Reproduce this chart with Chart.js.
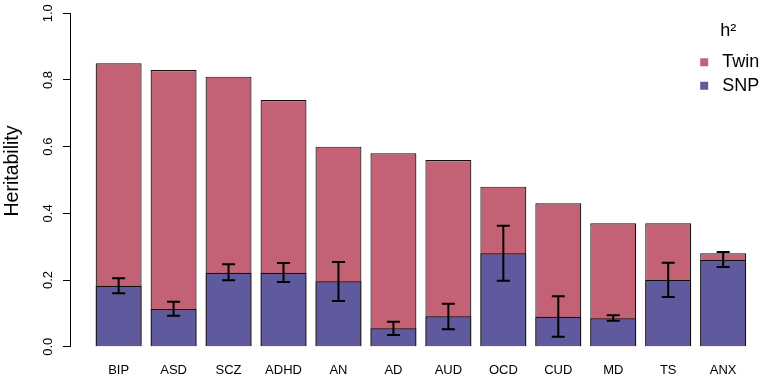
<!DOCTYPE html>
<html>
<head>
<meta charset="utf-8">
<script src="https://cdn.jsdelivr.net/npm/chart.js@4/dist/chart.umd.min.js"></script>
<style>
  html, body { margin: 0; padding: 0; background: #fff; }
  #wrap { width: 767px; height: 380px; }
</style>
</head>
<body>
<div id="wrap"><canvas id="c" width="767" height="380"></canvas></div>
<script>
// ---- data ----
const categories = ['BIP', 'ASD', 'SCZ', 'ADHD', 'AN', 'AD', 'AUD', 'OCD', 'CUD', 'MD', 'TS', 'ANX'];
const twinH2   = [0.85, 0.83, 0.81, 0.74, 0.60, 0.58, 0.56, 0.48, 0.43, 0.37, 0.37, 0.28];
const snpH2    = [0.183, 0.113, 0.222, 0.222, 0.196, 0.055, 0.091, 0.280, 0.090, 0.085, 0.200, 0.260];
const snpLower = [0.160, 0.093, 0.199, 0.194, 0.137, 0.035, 0.052, 0.198, 0.030, 0.078, 0.149, 0.239];
const snpUpper = [0.205, 0.135, 0.247, 0.251, 0.254, 0.075, 0.129, 0.363, 0.151, 0.094, 0.252, 0.284];
const yTicks   = [0, 0.2, 0.4, 0.6, 0.8, 1.0];
const seriesNames = ['Twin', 'SNP'];
const legendTitle = 'h\u00B2';
const yTitle = 'Heritability';

const FONT = '"Liberation Sans", Arial, Helvetica, sans-serif';

const errorBars = {
  id: 'errorBars',
  afterDatasetsDraw(chart) {
    const { ctx, scales: { x, y } } = chart;
    ctx.save();
    ctx.strokeStyle = '#000';
    ctx.lineWidth = 2;
    categories.forEach((c, i) => {
      const px = x.getPixelForValue(i);
      const lo = y.getPixelForValue(snpLower[i]);
      const hi = y.getPixelForValue(snpUpper[i]);
      ctx.beginPath();
      ctx.moveTo(px, lo); ctx.lineTo(px, hi);
      ctx.moveTo(px - 6.5, lo); ctx.lineTo(px + 6.5, lo);
      ctx.moveTo(px - 6.5, hi); ctx.lineTo(px + 6.5, hi);
      ctx.stroke();
    });
    ctx.restore();
  }
};

// y-axis title, placed like R's ylab (slightly above the plot-region centre)
const yAxisTitle = {
  id: 'yAxisTitle',
  afterDraw(chart) {
    const { ctx, chartArea } = chart;
    ctx.save();
    ctx.translate(17.5, (chartArea.top + chartArea.bottom) / 2 - 9);
    ctx.rotate(-Math.PI / 2);
    ctx.font = '19.5px ' + FONT;
    ctx.fillStyle = '#000';
    ctx.textAlign = 'center';
    ctx.textBaseline = 'alphabetic';
    ctx.fillText(yTitle, 0, 0);
    ctx.restore();
  }
};

new Chart(document.getElementById('c'), {
  type: 'bar',
  data: {
    datasets: [
      {
        label: seriesNames[0],
        data: twinH2.map((v, i) => ({ x: i, y: v })),
        backgroundColor: '#C46275',
        borderColor: '#111',
        borderWidth: 1.2,
        grouped: false,
        order: 1,
        clip: false,
        barPercentage: 0.836,
        categoryPercentage: 1
      },
      {
        label: seriesNames[1],
        data: snpH2.map((v, i) => ({ x: i, y: v })),
        backgroundColor: '#5F599D',
        borderColor: '#111',
        borderWidth: 1.2,
        grouped: false,
        order: 0,
        clip: false,
        barPercentage: 0.836,
        categoryPercentage: 1
      }
    ]
  },
  options: {
    responsive: false,
    animation: false,
    devicePixelRatio: 1,
    layout: { padding: { top: 13.3, right: 0, bottom: 0, left: 0 } },
    plugins: {
      tooltip: { enabled: false },
      legend: {
        position: 'right',
        align: 'start',
        maxWidth: 77.3,
        title: {
          display: true,
          text: legendTitle,
          color: '#000',
          font: { family: FONT, size: 18 },
          padding: { top: 8.4, bottom: 4.5 },
          position: 'center'
        },
        labels: {
          usePointStyle: true,
          pointStyle: 'rect',
          boxWidth: 18,
          boxHeight: 8,
          padding: 5.5,
          color: '#000',
          font: { family: FONT, size: 18 },
          sort: (a, b) => a.datasetIndex - b.datasetIndex,
          generateLabels(chart) {
            return Chart.defaults.plugins.legend.labels.generateLabels(chart)
              .map(l => Object.assign(l, { lineWidth: 0 }));
          }
        }
      }
    },
    scales: {
      x: {
        type: 'linear',
        offset: false,
        min: -0.885,
        max: 10.391,
        bounds: 'data',
        grid: { display: false, drawTicks: false, offset: false },
        border: { display: false },
        afterBuildTicks(scale) { scale.ticks = categories.map((c, i) => ({ value: i })); },
        afterFit(scale) { scale.height = 33.3; scale.paddingLeft = 0; scale.paddingRight = 0; },
        ticks: {
          autoSkip: false,
          maxRotation: 0,
          minRotation: 0,
          padding: 16,
          color: '#000',
          font: { family: FONT, size: 13 },
          callback: (v) => categories[v]
        }
      },
      y: {
        min: 0,
        max: 1,
        afterBuildTicks(scale) { scale.ticks = yTicks.map(v => ({ value: v })); },
        afterFit(scale) { scale.width = 70; },
        grid: { drawOnChartArea: false, drawTicks: true, tickLength: 7, color: '#000', lineWidth: 1 },
        border: { display: true, color: '#000', width: 1 },
        ticks: {
          minRotation: 90,
          maxRotation: 90,
          crossAlign: 'center',
          padding: 5.3,
          color: '#000',
          font: { family: FONT, size: 13 },
          callback: (v) => Number(v).toFixed(1)
        },
        title: { display: false }
      }
    }
  },
  plugins: [errorBars, yAxisTitle]
});
</script>
</body>
</html>
